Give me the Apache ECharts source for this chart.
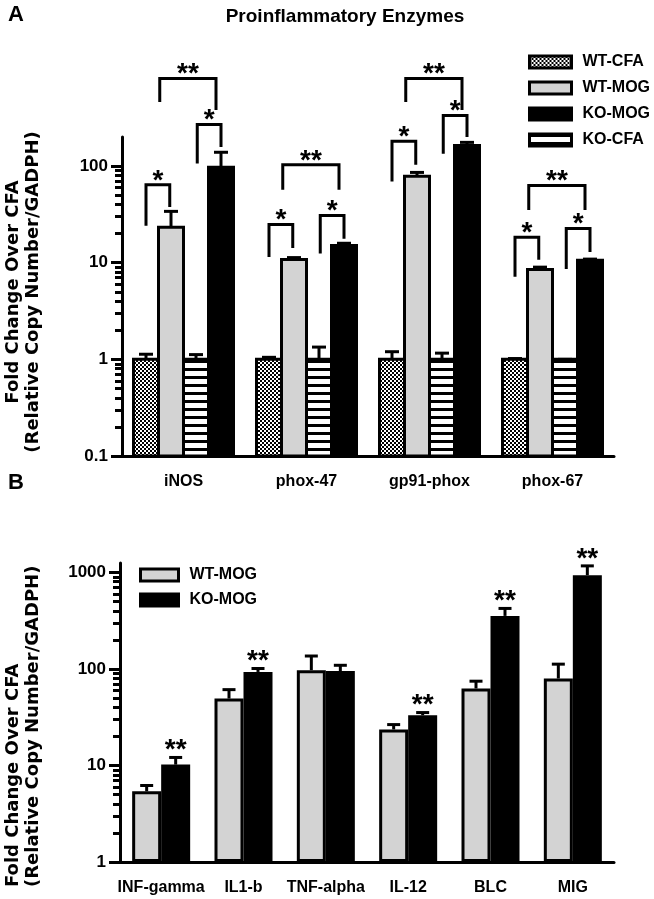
<!DOCTYPE html>
<html><head><meta charset="utf-8">
<script src="https://cdn.jsdelivr.net/npm/echarts@6/dist/echarts.min.js"></script>
<style>html,body{margin:0;padding:0;background:#fff}#c{width:654px;height:899px}</style>
</head><body><div id="c"></div>
<script>
// ---------- Panel A: Proinflammatory Enzymes ----------
const enzymeCategories = ['iNOS', 'phox-47', 'gp91-phox', 'phox-67'];
const wtCfaValues = [1, 1, 1, 1];
const wtCfaErrTop = [1.13, 1.05, 1.2, 1.02];
const wtMogValues = [23.3, 10.8, 78.6, 8.5];
const wtMogErrTop = [34, 11.3, 86, 9.0];
const koCfaValues = [1, 1, 1, 1];
const koCfaErrTop = [1.12, 1.34, 1.16, 1.0];
const koMogValues = [97, 15.1, 163, 10.6];
const koMogErrTop = [139, 15.9, 176, 10.9];
// significance brackets: [category, leftSlot, rightSlot, topValue, leftFootValue, rightFootValue, label]
const enzymeBrackets = [
  [0, 0, 0.95, 64, 25, 39, '*'],
  [0, 2.05, 3, 269, 110, 163, '*'],
  [0, 0.55, 2.8, 805, 477, 394, '**'],
  [1, 0, 0.95, 24.9, 11.9, 14.7, '*'],
  [1, 2.05, 3, 30.8, 12.9, 18.4, '*'],
  [1, 0.55, 2.8, 103, 59, 59, '**'],
  [2, 0, 0.95, 181, 72, 107, '*'],
  [2, 2.05, 3, 334, 139, 207, '*'],
  [2, 0.55, 2.8, 805, 477, 394, '**'],
  [3, 0, 0.95, 18.4, 7.4, 11.1, '*'],
  [3, 2.05, 3, 22.6, 8.9, 13.4, '*'],
  [3, 0.55, 2.8, 63, 36.5, 36.5, '**']
];
const enzymeAxisMin = 0.1, enzymeAxisMax = 200;
const enzymeMajorTicks = [0.1, 1, 10, 100];
const enzymeMinorTicks = [0.2, 0.3, 0.4, 0.5, 0.6, 0.7, 0.8, 0.9, 2, 3, 4, 5, 6, 7, 8, 9, 20, 30, 40, 50, 60, 70, 80, 90];

// ---------- Panel B: cytokines ----------
const cytokineCategories = ['INF-gamma', 'IL1-b', 'TNF-alpha', 'IL-12', 'BLC', 'MIG'];
const cytWtMogValues = [5.4, 49.3, 97, 23.6, 62.7, 79.5];
const cytWtMogErrTop = [6.2, 61, 136, 26.5, 74.6, 112];
const cytKoMogValues = [10.2, 93, 95, 33.1, 354, 935];
const cytKoMogErrTop = [12.1, 101, 109, 35.3, 423, 1167];
const cytStars = ['**', '**', '', '**', '**', '**'];
const cytokineAxisMin = 1, cytokineAxisMax = 1250;
const cytokineMajorTicks = [1, 10, 100, 1000];
const cytokineMinorTicks = [2, 3, 4, 5, 6, 7, 8, 9, 20, 30, 40, 50, 60, 70, 80, 90, 200, 300, 400, 500, 600, 700, 800, 900];

// ---------- styling ----------
const BAR_A = 25, BAR_B = 29;
const GRAY = '#d3d3d3';
const FONT = '"Liberation Sans", Arial, sans-serif';

function makePattern(w, h, draw) {
  const c = document.createElement('canvas');
  c.width = w; c.height = h;
  const g = c.getContext('2d');
  g.fillStyle = '#fff'; g.fillRect(0, 0, w, h);
  g.fillStyle = '#000'; draw(g);
  return { image: c, repeat: 'repeat' };
}
const checker = makePattern(4, 4, g => { g.fillRect(0, 0, 2, 2); g.fillRect(2, 2, 2, 2); });
const stripes = makePattern(4, 8, g => { g.fillRect(0, 0, 4, 3); });

// panel A bars start at the axis minimum (0.1), drawn through the log axis
function enzymeBars(name, values, fill, slot) {
  return {
    name, type: 'custom', xAxisIndex: 0, yAxisIndex: 0, z: 2, animation: false, silent: true,
    itemStyle: { color: fill, borderColor: '#000', borderWidth: 3 },
    data: values.map((v, i) => [i, v]),
    encode: { x: 0, y: 1 },
    renderItem(params, api) {
      const p = api.coord([api.value(0), api.value(1)]);
      const b = api.coord([api.value(0), enzymeAxisMin]);
      const x = p[0] + (slot - 1.5) * BAR_A - BAR_A / 2;
      return { type: 'rect', shape: { x, y: p[1], width: BAR_A, height: b[1] - p[1] },
        style: { fill, stroke: '#000', lineWidth: 3 } };
    }
  };
}
function bar(name, data, fill, gi, w) {
  return {
    name, type: 'bar', xAxisIndex: gi, yAxisIndex: gi * 2, data,
    barWidth: w, barGap: '0%',
    itemStyle: { color: fill, borderColor: '#000', borderWidth: 3 },
    emphasis: { disabled: true }, animation: false
  };
}
function errBars(values, tops, slot, n, w, gi, cap) {
  return {
    type: 'custom', xAxisIndex: gi, yAxisIndex: gi * 2, silent: true, z: 5, clip: false, animation: false,
    data: values.map((v, i) => [i, v, tops[i]]),
    encode: { x: 0, y: [1, 2] },
    renderItem(params, api) {
      const c = api.value(0);
      const p0 = api.coord([c, api.value(1)]);
      const p1 = api.coord([c, api.value(2)]);
      const x = p0[0] + (slot - (n - 1) / 2) * w;
      return { type: 'group', children: [
        { type: 'line', shape: { x1: x, y1: p0[1], x2: x, y2: p1[1] }, style: { stroke: '#000', lineWidth: 3 } },
        { type: 'line', shape: { x1: x - cap / 2, y1: p1[1], x2: x + cap / 2, y2: p1[1] }, style: { stroke: '#000', lineWidth: 3 } }
      ]};
    }
  };
}
function starStyle(text) {
  return { text, font: 'bold 28px ' + FONT, align: 'center', verticalAlign: 'middle', fill: '#000' };
}

const brackets = {
  type: 'custom', xAxisIndex: 0, yAxisIndex: 0, silent: true, z: 6, clip: false, animation: false,
  data: enzymeBrackets.map(b => [b[0], b[3], b[4], b[5]]),
  encode: { x: 0, y: 1 },
  renderItem(params, api) {
    const b = enzymeBrackets[params.dataIndex];
    const pt = api.coord([b[0], b[3]]);
    const base = pt[0] - 1.5 * BAR_A;
    const xl = base + b[1] * BAR_A, xr = base + b[2] * BAR_A;
    const yt = pt[1];
    const yl = api.coord([b[0], b[4]])[1];
    const yr = api.coord([b[0], b[5]])[1];
    return { type: 'group', children: [
      { type: 'polyline', shape: { points: [[xl, yl], [xl, yt], [xr, yt], [xr, yr]] },
        style: { stroke: '#000', lineWidth: 3, fill: null, lineJoin: 'miter', lineCap: 'square' } },
      { type: 'text', x: (xl + xr) / 2, y: yt - 4, style: starStyle(b[6]) }
    ]};
  }
};
const cytStarSeries = {
  type: 'custom', xAxisIndex: 1, yAxisIndex: 2, silent: true, z: 6, clip: false, animation: false,
  data: cytKoMogErrTop.map((v, i) => [i, v]),
  encode: { x: 0, y: 1 },
  renderItem(params, api) {
    const p = api.coord([api.value(0), api.value(1)]);
    return { type: 'text', x: p[0] + 0.5 * BAR_B, y: p[1] - 7, style: starStyle(cytStars[params.dataIndex]) };
  }
};

function xAxis(gi, data) {
  return {
    type: 'category', gridIndex: gi, data,
    axisLine: { lineStyle: { color: '#000', width: 3 } },
    axisTick: { alignWithLabel: true, length: 10, lineStyle: { color: '#000', width: 3 } },
    axisLabel: { margin: 18, color: '#000', fontFamily: FONT, fontWeight: 'bold', fontSize: 16, interval: 0 },
    splitLine: { show: false }
  };
}
function yAxes(gi, min, max, major, minor) {
  return [{
    type: 'log', logBase: 10, gridIndex: gi, min, max, position: 'left',
    axisLine: { show: true, lineStyle: { color: '#000', width: 3 } },
    axisTick: { show: true, customValues: major, length: 11, lineStyle: { color: '#000', width: 3 } },
    axisLabel: { customValues: major, margin: 14, color: '#000', fontFamily: FONT, fontWeight: 'bold', fontSize: 17,
      formatter: v => String(+(+v).toPrecision(6)) },
    splitLine: { show: false }, minorTick: { show: false }
  }, {
    type: 'log', logBase: 10, gridIndex: gi, min, max, position: 'left', offset: 0,
    axisLine: { show: false },
    axisTick: { show: true, customValues: minor, length: 7, lineStyle: { color: '#000', width: 3 } },
    axisLabel: { show: false }, splitLine: { show: false }
  }];
}
function legend(data, left, top, w, gap) {
  return {
    data, orient: 'vertical', left, top, padding: 0, itemWidth: w, itemHeight: 12, itemGap: gap,
    icon: 'rect', selectedMode: false,
    itemStyle: { borderColor: '#000', borderWidth: 3 },
    textStyle: { color: '#000', fontFamily: FONT, fontWeight: 'bold', fontSize: 16, lineHeight: 12, padding: [0, 0, 0, 6] }
  };
}
const yTitle = 'Fold Change Over CFA\n(Relative Copy Number/GADPH)';
const titleFont = 'bold 18px "DejaVu Sans", sans-serif';

const chart = echarts.init(document.getElementById('c'), null, { renderer: 'canvas' });
chart.setOption({
  animation: false,
  backgroundColor: '#fff',
  grid: [
    { left: 122, top: 137, width: 492, height: 319 },
    { left: 120, top: 563, width: 494, height: 299 }
  ],
  xAxis: [xAxis(0, enzymeCategories), xAxis(1, cytokineCategories)],
  yAxis: [...yAxes(0, enzymeAxisMin, enzymeAxisMax, enzymeMajorTicks, enzymeMinorTicks),
          ...yAxes(1, cytokineAxisMin, cytokineAxisMax, cytokineMajorTicks, cytokineMinorTicks)],
  legend: [
    legend(['WT-CFA', 'WT-MOG', 'KO-MOG', 'KO-CFA'], 528, 54, 42, 10),
    legend(['WT-MOG', 'KO-MOG'], 139, 567, 38, 9)
  ],
  graphic: [
    { type: 'text', x: 8, y: 4, style: { text: 'A', font: 'bold 22px ' + FONT, fill: '#000' } },
    { type: 'text', x: 8, y: 472, style: { text: 'B', font: 'bold 22px ' + FONT, fill: '#000' } },
    { type: 'text', x: 345, y: 17, style: { text: 'Proinflammatory Enzymes', font: 'bold 19px ' + FONT, fill: '#000', align: 'center', verticalAlign: 'middle' } },
    { type: 'text', x: 23, y: 292, rotation: Math.PI / 2, style: { text: yTitle, font: titleFont, fill: '#000', align: 'center', verticalAlign: 'middle', lineHeight: 20 } },
    { type: 'text', x: 23, y: 887, rotation: Math.PI / 2, style: { text: yTitle, font: titleFont, fill: '#000', align: 'left', verticalAlign: 'middle', lineHeight: 20 } }
  ],
  series: [
    enzymeBars('WT-CFA', wtCfaValues, checker, 0),
    enzymeBars('WT-MOG', wtMogValues, GRAY, 1),
    enzymeBars('KO-CFA', koCfaValues, stripes, 2),
    enzymeBars('KO-MOG', koMogValues, '#000', 3),
    errBars(wtCfaValues, wtCfaErrTop, 0, 4, BAR_A, 0, 14),
    errBars(wtMogValues, wtMogErrTop, 1, 4, BAR_A, 0, 14),
    errBars(koCfaValues, koCfaErrTop, 2, 4, BAR_A, 0, 14),
    errBars(koMogValues, koMogErrTop, 3, 4, BAR_A, 0, 14),
    brackets,
    bar('WT-MOG', cytWtMogValues, GRAY, 1, BAR_B),
    bar('KO-MOG', cytKoMogValues, '#000', 1, BAR_B),
    errBars(cytWtMogValues, cytWtMogErrTop, 0, 2, BAR_B, 1, 13),
    errBars(cytKoMogValues, cytKoMogErrTop, 1, 2, BAR_B, 1, 13),
    cytStarSeries
  ]
});
</script></body></html>
